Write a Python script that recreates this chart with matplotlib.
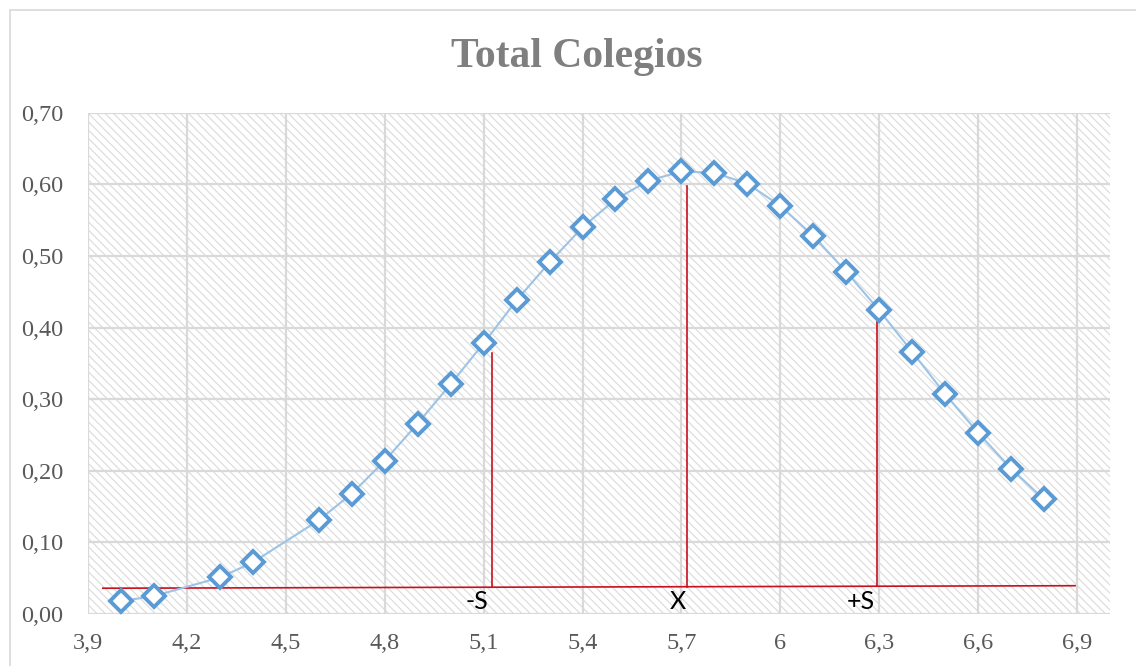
import matplotlib.pyplot as plt
from matplotlib.patches import Rectangle

# puntos de la curva
x = [4.0, 4.1, 4.3, 4.4, 4.6, 4.7, 4.8, 4.9, 5.0, 5.1, 5.2, 5.3, 5.4, 5.5,
     5.6, 5.7, 5.8, 5.9, 6.0, 6.1, 6.2, 6.3, 6.4, 6.5, 6.6, 6.7, 6.8]
y = [0.018, 0.025, 0.051, 0.072, 0.131, 0.168, 0.214, 0.266, 0.321, 0.378,
     0.438, 0.491, 0.540, 0.579, 0.605, 0.618, 0.616, 0.601, 0.570, 0.528,
     0.478, 0.424, 0.366, 0.307, 0.253, 0.203, 0.160]

# lineas rojas: base y verticales (-S, X, +S)
base_x = [3.945, 6.894]
base_y = [0.036, 0.0395]
vert_x = [5.125, 5.717, 6.292]
vert_top = [0.365, 0.597, 0.408]
etiquetas = ['-S', 'X', '+S']
etiq_x = [5.08, 5.69, 6.245]
etiq_y = [0.017, 0.018, 0.017]

xticks = [3.9, 4.2, 4.5, 4.8, 5.1, 5.4, 5.7, 6.0, 6.3, 6.6, 6.9]
xticklabels = ['3,9', '4,2', '4,5', '4,8', '5,1', '5,4', '5,7', '6', '6,3', '6,6', '6,9']
yticks = [0.0, 0.1, 0.2, 0.3, 0.4, 0.5, 0.6, 0.7]
yticklabels = ['0,00', '0,10', '0,20', '0,30', '0,40', '0,50', '0,60', '0,70']

plt.rcParams['hatch.linewidth'] = 0.8

fig = plt.figure(figsize=(11.36, 6.66), dpi=100)
ax = fig.add_axes([88/1136, 1 - 614/666, (1110-88)/1136, (614-112.7)/666])

# fondo rayado
ax.add_patch(Rectangle((0, 0), 1, 1, transform=ax.transAxes, facecolor='white',
                       edgecolor='#dadada', hatch='\\\\\\\\', lw=0, zorder=0))

ax.plot(x, y, '-', color='#9dc3e6', lw=1.5, zorder=3)
ax.plot(x, y, 'D', markersize=11, markerfacecolor='white', markeredgecolor='#5b9bd5',
        markeredgewidth=2.8, zorder=4)

rojo = '#c8101e'
ax.plot(base_x, base_y, color=rojo, lw=1.2, zorder=2)
for i in range(len(vert_x)):
    yb = base_y[0] + (vert_x[i] - base_x[0]) / (base_x[1] - base_x[0]) * (base_y[1] - base_y[0])
    ax.plot([vert_x[i], vert_x[i]], [yb, vert_top[i]], color=rojo, lw=1.2, zorder=2)
    ax.text(etiq_x[i], etiq_y[i], etiquetas[i], ha='center', va='center',
            fontsize=18, family='Lato', color='black', zorder=5)

ax.set_xlim(3.9, 7.0)
ax.set_ylim(0, 0.70)
ax.set_xticks(xticks)
ax.set_xticklabels(xticklabels)
ax.set_yticks(yticks)
ax.set_yticklabels(yticklabels)
for lab in ax.get_xticklabels() + ax.get_yticklabels():
    lab.set_family('Liberation Serif')
    lab.set_fontsize(17.5)
    lab.set_color('#595959')
ax.tick_params(axis='both', length=0)
ax.tick_params(axis='y', pad=18)
ax.tick_params(axis='x', pad=14)

ax.grid(True, color='#d9d9d9', lw=1.6)
ax.set_axisbelow(True)
for s in ax.spines.values():
    s.set_visible(False)

fig.text(577/1136, 1 - 57/666, 'Total Colegios', ha='center', va='center',
         family='Liberation Serif', fontweight='bold', fontsize=30, color='#7f7f7f')

# borde del grafico
fig.patches.append(Rectangle((10/1136, -0.1), 1.2, 1.1 - 10.5/666, transform=fig.transFigure,
                             fill=False, edgecolor='#d9d9d9', lw=1.2))

fig.savefig('out.png')
